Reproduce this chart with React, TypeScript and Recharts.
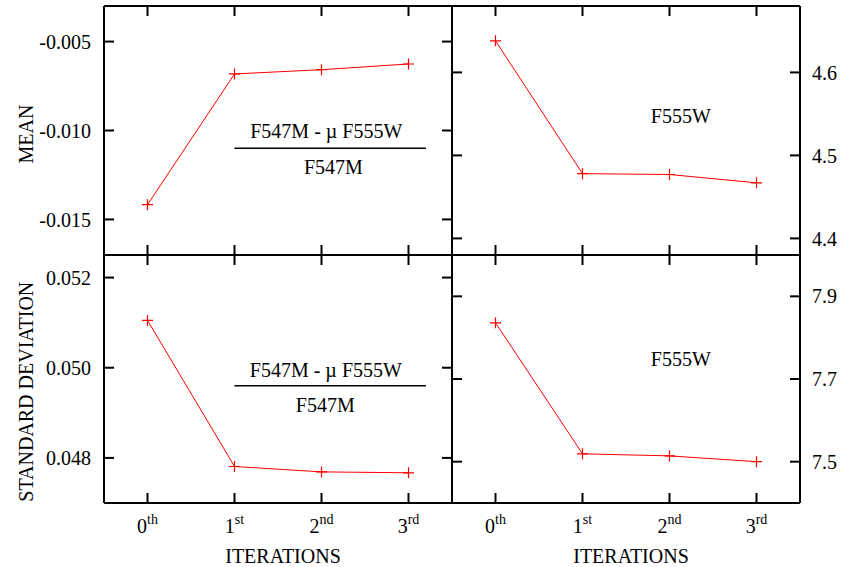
import { LineChart, Line, XAxis, YAxis, ReferenceLine, ReferenceDot } from 'recharts';

// 4-panel iteration convergence plot (mean / std dev of ratio and of F555W)

const W = 842;
const H = 567;
const SERIF = '"Liberation Serif", "Times New Roman", serif';
const RED = '#ff0000';
const AX = 1; // thin band for label-only axes
const TICK_LEN = 10;

const iterations = [0, 1, 2, 3];
const iterBase = ['0', '1', '2', '3'];
const iterSup = ['th', 'st', 'nd', 'rd'];

const meanRatio = [-0.01417, -0.00682, -0.00658, -0.00626];
const meanF555W = [4.638, 4.478, 4.477, 4.467];
const sdRatio = [0.05105, 0.04781, 0.04769, 0.04767];
const sdF555W = [7.836, 7.519, 7.514, 7.5];

const meanRatioTicks = [-0.015, -0.01, -0.005];
const meanF555WTicks = [4.4, 4.5, 4.6];
const sdRatioTicks = [0.048, 0.05, 0.052];
const sdF555WTicks = [7.5, 7.7, 7.9];

const axisStyle = { stroke: '#000', strokeWidth: 2 };
const X_DOMAIN: [number, number] = [-0.5, 3.5];

function EmptyTick() {
  return <g />;
}

// tick mark for the right edge, pointing back into the panel
function RightEdgeTick(props: any) {
  const { x, y } = props;
  return <line x1={x - TICK_LEN} x2={x} y1={y} y2={y} stroke="#000" strokeWidth={2} />;
}

function IterTick(props: any) {
  const { x, y, payload } = props;
  const i = iterations.indexOf(payload.value);
  return (
    <text x={x} y={y + 30} textAnchor="middle" fill="#000" fontFamily={SERIF} fontSize={20}>
      <tspan>{iterBase[i]}</tspan>
      <tspan dy={-9} fontSize={14}>{iterSup[i]}</tspan>
    </text>
  );
}

function PlusDot(props: any) {
  const { cx, cy, index } = props;
  if (cx == null || cy == null) return null;
  const s = 5.5;
  return (
    <path
      key={`p${index}`}
      d={`M${cx - s},${cy}H${cx + s}M${cx},${cy - s}V${cy + s}`}
      stroke={RED}
      strokeWidth={1.2}
      fill="none"
    />
  );
}

function TextMark(label: string) {
  return (p: any) => (
    <text x={p.cx} y={p.cy} textAnchor="middle" fill="#000" fontFamily={SERIF} fontSize={20}>
      {label}
    </text>
  );
}

type Note =
  | { kind: 'ratio'; num: [number, number]; line: number; den: [number, number] }
  | { kind: 'band'; at: [number, number] };

interface PanelProps {
  values: number[];
  domain: [number, number];
  ticks: number[];
  digits: number;
  side: 'left' | 'right';
  box: { top: number; right: number; bottom: number; left: number };
  xLabels: boolean;
  yTitle?: { text: string; dy: number };
  note: Note;
}

function Panel({ values, domain, ticks, digits, side, box, xLabels, yTitle, note }: PanelProps) {
  const data = iterations.map((it, i) => ({ it, v: values[i] }));
  const fmt = (v: number) => v.toFixed(digits);
  // only the non-mirrored label axes take room from the margin
  const margin = {
    top: box.top,
    right: W - box.right - (side === 'right' ? AX : 0),
    bottom: H - box.bottom - AX,
    left: box.left - (side === 'left' ? AX : 0),
  };

  return (
    <div style={{ position: 'absolute', left: 0, top: 0 }}>
      <LineChart width={W} height={H} data={data} margin={margin}>
        {/* frame + inward tick marks */}
        <XAxis
          xAxisId="b"
          orientation="bottom"
          mirror
          dataKey="it"
          type="number"
          domain={X_DOMAIN}
          ticks={iterations}
          interval={0}
          height={AX}
          tickSize={TICK_LEN}
          axisLine={axisStyle}
          tickLine={axisStyle}
          tick={EmptyTick}
        />
        <XAxis
          xAxisId="t"
          orientation="top"
          mirror
          dataKey="it"
          type="number"
          domain={X_DOMAIN}
          ticks={iterations}
          interval={0}
          height={AX}
          tickSize={TICK_LEN}
          axisLine={axisStyle}
          tickLine={axisStyle}
          tick={EmptyTick}
        />
        <YAxis
          yAxisId="l"
          orientation="left"
          mirror
          dataKey="v"
          type="number"
          domain={domain}
          ticks={ticks}
          interval={0}
          width={AX}
          tickSize={TICK_LEN}
          axisLine={axisStyle}
          tickLine={axisStyle}
          tick={EmptyTick}
        />
        <YAxis
          yAxisId="r"
          orientation="right"
          mirror
          dataKey="v"
          type="number"
          domain={domain}
          ticks={ticks}
          interval={0}
          width={AX}
          tickSize={0}
          tickMargin={0}
          axisLine={axisStyle}
          tickLine={false}
          tick={RightEdgeTick}
        />
        {/* tick labels and titles */}
        <XAxis
          xAxisId="lbl"
          orientation="bottom"
          dataKey="it"
          type="number"
          domain={X_DOMAIN}
          ticks={iterations}
          interval={0}
          height={AX}
          tickSize={0}
          tickMargin={0}
          axisLine={false}
          tickLine={false}
          tick={xLabels ? IterTick : EmptyTick}
          label={
            xLabels
              ? () => (
                  <text
                    x={(box.left + box.right) / 2 + 5}
                    y={box.bottom + 60}
                    textAnchor="middle"
                    fill="#000"
                    fontFamily={SERIF}
                    fontSize={20}
                  >
                    ITERATIONS
                  </text>
                )
              : undefined
          }
        />
        <YAxis
          yAxisId="lbl"
          orientation={side}
          dataKey="v"
          type="number"
          domain={domain}
          ticks={ticks}
          interval={0}
          width={AX}
          tickSize={0}
          tickMargin={side === 'left' ? 13 : 12}
          tickFormatter={fmt}
          axisLine={false}
          tickLine={false}
          tick={{ fill: '#000', fontSize: 20, fontFamily: SERIF }}
          label={
            yTitle
              ? () => {
                  const cx = 33;
                  const cy = (box.top + box.bottom) / 2 + yTitle.dy;
                  return (
                    <text
                      x={cx}
                      y={cy}
                      transform={`rotate(-90, ${cx}, ${cy})`}
                      textAnchor="middle"
                      fill="#000"
                      fontFamily={SERIF}
                      fontSize={20}
                    >
                      {yTitle.text}
                    </text>
                  );
                }
              : undefined
          }
        />
        {note.kind === 'ratio' && (
          <>
            <ReferenceLine
              xAxisId="b"
              yAxisId="l"
              segment={[
                { x: 1, y: note.line },
                { x: 3.2, y: note.line },
              ]}
              stroke="#000"
              strokeWidth={1.5}
            />
            <ReferenceDot xAxisId="b" yAxisId="l" x={note.num[0]} y={note.num[1]} r={0} shape={TextMark('F547M - µ F555W')} />
            <ReferenceDot xAxisId="b" yAxisId="l" x={note.den[0]} y={note.den[1]} r={0} shape={TextMark('F547M')} />
          </>
        )}
        {note.kind === 'band' && (
          <ReferenceDot xAxisId="b" yAxisId="l" x={note.at[0]} y={note.at[1]} r={0} shape={TextMark('F555W')} />
        )}
        <Line
          xAxisId="b"
          yAxisId="l"
          dataKey="v"
          stroke={RED}
          strokeWidth={1}
          dot={PlusDot}
          activeDot={false}
          isAnimationActive={false}
        />
      </LineChart>
    </div>
  );
}

export default function App() {
  return (
    <div style={{ position: 'absolute', left: 0, top: 0, width: W, height: H, background: '#fff' }}>
      <Panel
        values={meanRatio}
        domain={[-0.017, -0.003]}
        ticks={meanRatioTicks}
        digits={3}
        side="left"
        box={{ top: 6, right: 452, bottom: 255, left: 104 }}
        xLabels={false}
        yTitle={{ text: 'MEAN', dy: 3.5 }}
        note={{ kind: 'ratio', num: [2.055, -0.010437], line: -0.011, den: [2.136, -0.01246] }}
      />
      <Panel
        values={meanF555W}
        domain={[4.38, 4.68]}
        ticks={meanF555WTicks}
        digits={1}
        side="right"
        box={{ top: 6, right: 800, bottom: 255, left: 452 }}
        xLabels={false}
        note={{ kind: 'band', at: [2.13, 4.5394] }}
      />
      <Panel
        values={sdRatio}
        domain={[0.047, 0.0525]}
        ticks={sdRatioTicks}
        digits={3}
        side="left"
        box={{ top: 255, right: 452, bottom: 503, left: 104 }}
        xLabels
        yTitle={{ text: 'STANDARD DEVIATION', dy: 12.7 }}
        note={{ kind: 'ratio', num: [2.05, 0.0498], line: 0.0496, den: [2.044, 0.049011] }}
      />
      <Panel
        values={sdF555W}
        domain={[7.4, 8.0]}
        ticks={sdF555WTicks}
        digits={1}
        side="right"
        box={{ top: 255, right: 800, bottom: 503, left: 452 }}
        xLabels
        note={{ kind: 'band', at: [2.13, 7.7314] }}
      />
    </div>
  );
}
